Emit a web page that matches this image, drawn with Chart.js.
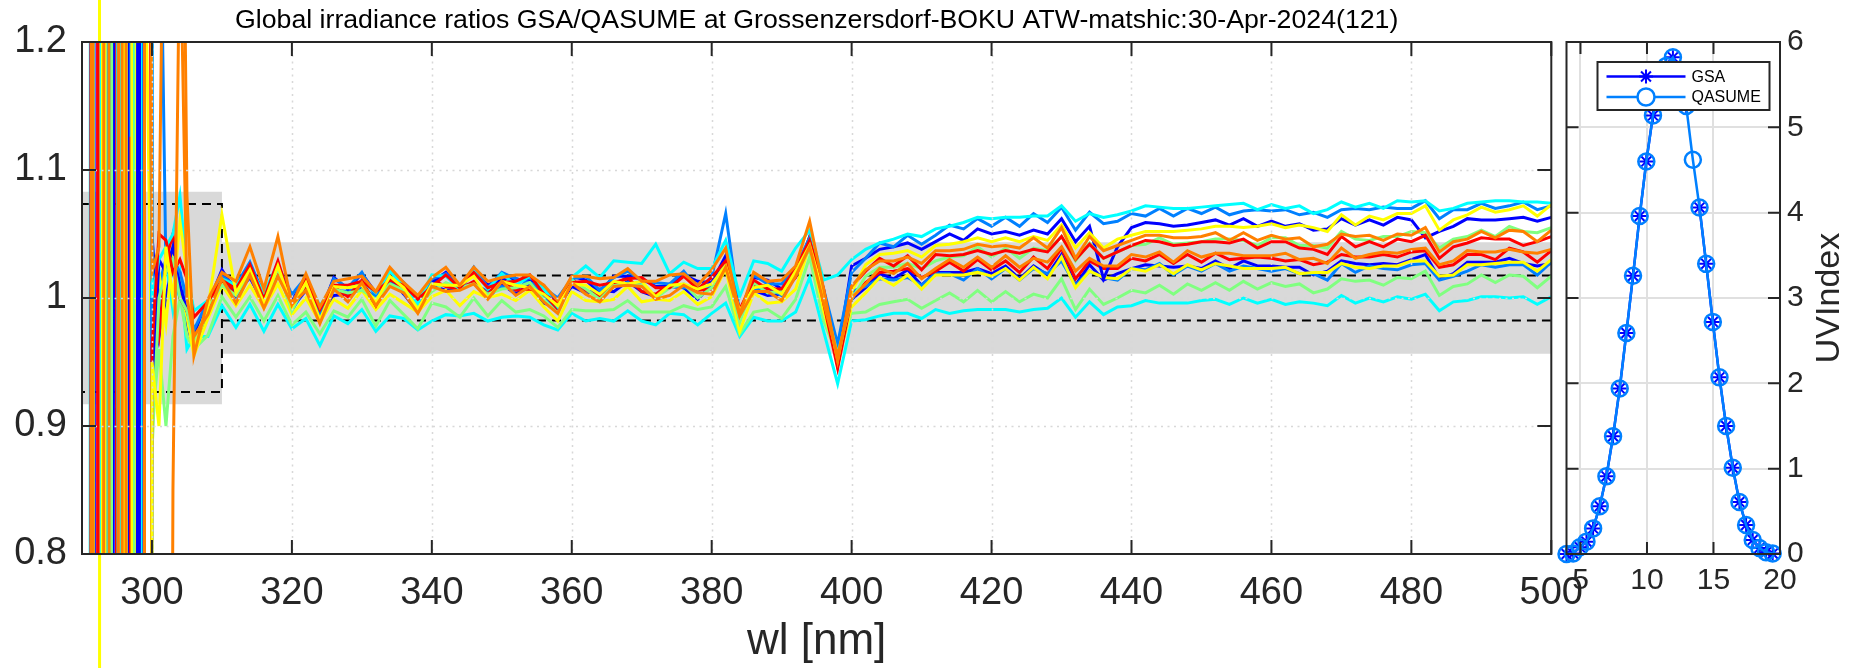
<!DOCTYPE html>
<html>
<head>
<meta charset="utf-8">
<script src="https://cdn.jsdelivr.net/npm/chart.js@4.4.1/dist/chart.umd.min.js"></script>
<style>
  html, body { margin: 0; padding: 0; background: #fff; }
  body { width: 1854px; height: 668px; position: relative; overflow: hidden; }
  #ratioChart { position: absolute; left: 0; top: 0; }
  #uvChart { position: absolute; left: 1556px; top: 0; }
</style>
</head>
<body>
<canvas id="ratioChart" width="1600" height="668"></canvas>
<canvas id="uvChart" width="298" height="668"></canvas>
<script>
// wavelengths (nm) of the ratio spectra
const wl = [290,291,292,293,294,295,296,297,298,299,300,301,302,303,304,305,306,
  308,310,312,314,316,318,320,322,324,326,328,330,332,334,336,338,340,342,344,346,348,350,
  352,354,356,358,360,362,364,366,368,370,372,374,376,378,380,382,384,386,388,390,392,394,396,398,400,
  402,404,406,408,410,412,414,416,418,420,422,424,426,428,430,432,434,436,438,440,
  442,444,446,448,450,452,454,456,458,460,462,464,466,468,470,472,474,476,478,480,
  482,484,486,488,490,492,494,496,498,500];

// GSA/QASUME ratio of each scan of the day
const scan01 = [-6,-6,20,20,-2,-2,12,-30,-30,3,1.02,1.04,1.5,2.5,1.6,1.08,0.955,
  0.999,1.020,1.013,1.040,1.007,1.048,0.995,1.019,0.993,1.013,1.015,1.017,1.005,1.024,1.012,1.002,1.016,1.024,1.010,1.024,1.013,1.016,1.018,1.018,1.010,0.998,1.017,1.017,1.015,1.016,1.023,1.013,1.013,1.018,1.019,1.010,1.022,1.039,0.987,1.020,1.013,1.014,1.025,1.060,1.007,0.951,1.009,
  1.022,1.029,1.029,1.032,1.027,1.037,1.037,1.038,1.042,1.040,1.041,1.039,1.047,1.039,1.055,1.031,1.048,1.037,1.041,1.045,1.049,1.049,1.047,1.047,1.048,1.051,1.045,1.051,1.045,1.049,1.046,1.047,1.040,1.042,1.050,1.048,1.049,1.045,1.050,1.049,1.055,1.036,1.044,1.046,1.052,1.047,1.053,1.052,1.044,1.053];
const scan02 = [5,5,-2,-2,30,30,-8,-8,-8,-3,0.5,0.7,-0.5,0.85,1.3,1.0,0.97,
  0.987,1.015,0.996,1.018,0.992,1.017,0.995,1.006,0.980,1.007,0.997,1.012,0.994,1.009,1.004,0.988,1.009,1.005,1.006,1.011,0.999,1.013,1.002,1.009,0.997,0.988,1.012,1.003,0.997,1.009,1.010,1.009,0.999,1.002,1.010,1.004,1.003,1.024,0.986,1.005,1.005,0.998,1.017,1.040,0.996,0.955,1.000,
  1.011,1.023,1.019,1.027,1.015,1.023,1.030,1.024,1.032,1.024,1.033,1.024,1.031,1.028,1.040,1.021,1.031,1.025,1.025,1.034,1.032,1.036,1.028,1.037,1.032,1.035,1.035,1.033,1.033,1.033,1.035,1.030,1.031,1.027,1.039,1.031,1.034,1.036,1.035,1.038,1.039,1.026,1.029,1.037,1.036,1.036,1.038,1.036,1.035,1.038];
const scan03 = [9,9,9,-40,-40,-3,-3,1.126,-3,-3,0.96,1.05,1.045,1.02,1.03,1.015,0.985,
  0.997,1.014,1.007,1.026,0.999,1.029,0.994,1.014,0.991,1.010,1.010,1.013,1.005,1.014,1.010,0.999,1.009,1.018,1.008,1.020,1.008,1.012,1.013,1.018,1.003,0.996,1.012,1.013,1.010,1.012,1.015,1.016,1.008,1.008,1.017,1.007,1.016,1.029,0.991,1.014,1.007,1.007,1.023,1.045,1.007,0.947,1.009,
  1.021,1.031,1.025,1.033,1.022,1.034,1.033,1.034,1.037,1.034,1.037,1.035,1.038,1.036,1.048,1.030,1.042,1.031,1.036,1.041,1.045,1.044,1.041,1.042,1.044,1.044,1.043,1.046,1.039,1.044,1.044,1.039,1.038,1.034,1.048,1.040,1.044,1.040,1.046,1.044,1.049,1.031,1.040,1.043,1.047,1.046,1.046,1.041,1.044,1.048];
const scan04 = [7,7,7,-15,-15,2,2,-30,-10,2,1.0,0.97,1.03,1.05,1.0,0.99,0.975,
  0.990,1.019,1.002,1.017,1.000,1.018,0.997,1.009,0.984,1.009,1.001,1.014,0.994,1.017,1.005,0.992,1.014,1.009,1.007,1.013,1.003,1.015,1.006,1.007,1.004,0.991,1.015,1.006,1.001,1.011,1.016,1.005,1.003,1.011,1.010,1.006,1.007,1.030,0.984,1.009,1.010,1.004,1.016,1.048,0.996,0.945,1.000,
  1.012,1.020,1.021,1.023,1.016,1.021,1.028,1.021,1.030,1.022,1.029,1.020,1.032,1.023,1.039,1.015,1.029,1.023,1.023,1.031,1.029,1.034,1.027,1.034,1.028,1.035,1.030,1.031,1.032,1.031,1.029,1.030,1.026,1.028,1.034,1.032,1.032,1.034,1.032,1.036,1.037,1.024,1.026,1.034,1.034,1.030,1.039,1.036,1.028,1.037];
const scan05 = [10,10,10,10,-25,-25,3,3,-12,-5,0.95,0.90,1.04,1.0,1.06,1.02,0.96,
  0.992,1.065,1.004,1.022,0.996,1.025,0.993,1.012,0.983,1.009,1.008,1.010,0.997,1.017,1.008,0.991,1.011,1.010,1.010,1.017,1.000,1.013,1.010,1.008,1.003,0.994,1.011,1.010,1.003,1.013,1.011,1.013,1.001,1.010,1.011,1.007,1.011,1.025,0.990,1.008,1.010,1.003,1.021,1.041,1.002,0.952,1.005,
  1.026,1.034,1.035,1.037,1.032,1.041,1.042,1.044,1.047,1.044,1.047,1.044,1.048,1.045,1.057,1.039,1.051,1.039,1.046,1.049,1.052,1.052,1.052,1.053,1.054,1.056,1.056,1.055,1.056,1.058,1.055,1.057,1.055,1.052,1.065,1.057,1.064,1.061,1.066,1.066,1.072,1.053,1.061,1.065,1.071,1.067,1.069,1.072,1.064,1.073];
const scan06 = [-6,-6,-20,3,3,-4,-4,-4,6,1.3,0.93,1.02,0.98,1.04,1.01,0.985,0.955,
  0.984,1.010,0.994,1.010,0.992,1.011,0.987,1.000,0.981,0.999,0.992,1.006,0.991,1.003,0.996,0.989,1.001,1.006,0.994,1.005,1.000,1.003,0.998,1.006,0.993,0.982,1.005,0.998,0.997,0.999,1.009,0.997,0.999,0.998,1.005,0.995,1.001,1.023,0.974,1.004,0.996,0.997,1.007,1.041,0.990,0.950,0.993,
  1.004,1.016,1.010,1.018,1.007,1.018,1.018,1.018,1.020,1.017,1.023,1.014,1.024,1.015,1.032,1.008,1.021,1.016,1.015,1.023,1.021,1.026,1.019,1.026,1.022,1.027,1.025,1.023,1.023,1.023,1.024,1.019,1.020,1.020,1.027,1.024,1.023,1.025,1.025,1.029,1.029,1.017,1.018,1.026,1.026,1.027,1.028,1.028,1.021,1.030];
const scan07 = [8,8,-3,-3,-3,15,15,15,-20,-5,0.88,1.0,1.02,1.03,1.0,0.99,0.965,
  0.994,1.010,1.002,1.020,0.995,1.023,0.990,1.012,0.981,1.007,1.004,1.006,0.999,1.011,1.006,0.993,1.005,1.012,1.008,1.011,1.003,1.007,1.008,1.012,0.999,0.988,1.014,1.007,0.999,1.010,1.011,1.010,1.000,1.008,1.011,1.000,1.008,1.028,0.981,1.012,1.004,1.005,1.018,1.039,0.999,0.956,0.999,
  1.017,1.024,1.024,1.027,1.023,1.029,1.032,1.033,1.040,1.032,1.039,1.031,1.039,1.037,1.048,1.029,1.043,1.031,1.036,1.041,1.042,1.047,1.042,1.043,1.044,1.046,1.046,1.045,1.041,1.047,1.047,1.041,1.041,1.039,1.052,1.046,1.045,1.048,1.048,1.052,1.051,1.039,1.046,1.048,1.053,1.048,1.056,1.052,1.051,1.055];
const scan08 = [-15,-15,25,25,-30,-30,6,-3,-3,-3,0.9,0.96,0.9,0.97,1.0,0.97,0.96,
  0.971,1.001,0.985,1.001,0.982,1.002,0.979,0.989,0.972,0.990,0.985,0.999,0.978,0.998,0.987,0.976,0.996,0.993,0.985,1.000,0.986,0.998,0.989,0.991,0.986,0.977,0.991,0.990,0.990,0.991,0.998,0.989,0.989,0.989,0.994,0.991,0.993,1.009,0.972,0.989,0.991,0.984,0.999,1.032,0.982,0.955,0.988,
  0.989,0.995,0.997,0.999,0.992,0.998,1.004,0.997,1.006,0.997,1.005,0.997,1.003,1.000,1.015,0.991,1.007,0.995,1.000,1.006,1.004,1.010,1.003,1.011,1.006,1.012,1.006,1.013,1.007,1.012,1.009,1.011,1.004,1.007,1.015,1.013,1.014,1.010,1.016,1.015,1.021,1.002,1.009,1.011,1.018,1.012,1.018,1.017,1.008,1.017];
const scan09 = [-4,-4,-4,-4,2,2,-6,-6,25,25,1.0,1.03,1.04,1.05,1.08,1.02,0.99,
  0.998,1.015,1.010,1.023,1.004,1.027,0.995,1.016,0.994,1.010,1.009,1.013,1.004,1.021,1.009,0.996,1.018,1.017,1.007,1.021,1.007,1.019,1.010,1.017,1.007,0.993,1.016,1.025,1.016,1.029,1.028,1.027,1.042,1.019,1.028,1.023,1.023,1.045,1.001,1.029,1.027,1.021,1.039,1.053,1.014,1.018,1.030,
  1.038,1.043,1.046,1.050,1.048,1.054,1.056,1.059,1.063,1.062,1.063,1.063,1.064,1.064,1.072,1.060,1.066,1.063,1.065,1.068,1.072,1.071,1.070,1.070,1.071,1.072,1.073,1.074,1.069,1.073,1.070,1.072,1.066,1.069,1.075,1.071,1.074,1.070,1.076,1.075,1.076,1.068,1.070,1.074,1.075,1.076,1.076,1.075,1.075,1.074];
const scan10 = [-3,-3,20,-6,-6,-6,5,5,5,-2,0.95,0.98,1.03,0.99,1.02,0.96,0.97,
  0.970,0.994,0.977,0.995,0.974,0.995,0.976,0.984,0.963,0.986,0.980,0.991,0.974,0.986,0.984,0.975,0.982,0.987,0.986,0.988,0.982,0.985,0.986,0.985,0.979,0.975,0.988,0.982,0.984,0.982,0.990,0.982,0.979,0.988,0.987,0.979,0.988,0.996,0.970,0.985,0.982,0.982,0.989,1.016,0.974,0.933,0.982,
  0.983,0.986,0.988,0.988,0.984,0.991,0.988,0.990,0.991,0.991,0.991,0.989,0.991,0.992,1.000,0.985,0.997,0.987,0.993,0.994,0.998,0.996,0.996,0.996,0.998,0.999,0.995,1.000,0.996,0.999,0.995,0.997,0.996,0.994,1.002,0.996,1.000,0.997,1.001,0.999,1.003,0.990,0.997,0.998,1.001,1.001,1.000,1.001,0.995,1.001];
const scan11 = [-5,-5,-5,-5,3,-25,-25,2,30,-6,1.25,1.4,1.02,1.03,1.02,1.0,0.975,
  0.998,1.017,1.010,1.028,1.002,1.025,1.003,1.016,0.988,1.015,1.008,1.020,1.001,1.021,1.012,0.996,1.015,1.019,1.008,1.024,1.008,1.020,1.015,1.012,1.008,1.000,1.015,1.017,1.006,1.016,1.021,1.013,1.012,1.011,1.021,1.007,1.016,1.066,0.987,1.018,1.011,1.011,1.024,1.047,1.007,0.964,1.020,
  1.031,1.043,1.040,1.049,1.042,1.049,1.057,1.054,1.062,1.056,1.063,1.056,1.066,1.059,1.071,1.053,1.067,1.058,1.060,1.066,1.064,1.070,1.064,1.070,1.066,1.071,1.065,1.068,1.069,1.068,1.069,1.065,1.067,1.063,1.069,1.070,1.069,1.071,1.070,1.070,1.076,1.062,1.069,1.069,1.074,1.070,1.072,1.075,1.069,1.072];
const scan12 = [5,5,5,5,-1,-1,-1,3,-3,-3,0.97,1.01,1.03,1.02,1.0,0.99,0.96,
  0.991,1.018,1.001,1.017,0.999,1.024,0.990,1.009,0.989,1.006,1.005,1.009,1.000,1.012,1.005,0.997,1.010,1.010,1.009,1.011,1.005,1.009,1.006,1.015,1.001,0.989,1.014,1.004,1.007,1.009,1.012,1.010,1.001,1.010,1.008,1.008,1.009,1.026,0.990,1.007,1.008,1.002,1.017,1.048,0.998,0.951,1.005,
  1.009,1.015,1.014,1.016,1.010,1.019,1.019,1.014,1.023,1.015,1.023,1.014,1.023,1.019,1.029,1.010,1.021,1.016,1.014,1.023,1.022,1.027,1.018,1.025,1.021,1.027,1.021,1.025,1.023,1.021,1.023,1.019,1.019,1.014,1.027,1.020,1.025,1.023,1.022,1.026,1.027,1.014,1.017,1.021,1.026,1.024,1.026,1.026,1.018,1.028];
const scan13 = [5,5,-12,-12,-2,4,40,-6,-6,30,0.92,1.03,1.02,1.04,1.01,0.99,0.97,
  0.995,1.022,1.005,1.026,1.003,1.023,0.998,1.016,0.987,1.016,1.007,1.019,1.004,1.014,1.011,1.001,1.012,1.020,1.007,1.020,1.010,1.015,1.015,1.013,1.010,0.993,1.017,1.014,1.004,1.017,1.017,1.015,1.009,1.009,1.018,1.013,1.012,1.033,0.987,1.016,1.014,1.007,1.020,1.040,1.005,0.956,1.025,
  1.031,1.038,1.040,1.043,1.038,1.044,1.050,1.045,1.054,1.050,1.052,1.049,1.053,1.050,1.062,1.044,1.056,1.015,1.040,1.055,1.059,1.058,1.056,1.057,1.059,1.061,1.057,1.062,1.056,1.060,1.056,1.058,1.053,1.054,1.062,1.057,1.061,1.057,1.063,1.061,1.047,1.052,1.056,1.062,1.061,1.061,1.062,1.063,1.060,1.063];
const scan14 = [7,7,-1,-1,-1,4,9,-40,6,6,1.05,0.97,1.0,1.03,1.02,0.98,0.96,
  0.991,1.010,1.003,1.016,0.995,1.023,0.992,1.006,0.987,1.002,1.003,1.007,0.994,1.016,1.003,0.989,1.010,1.006,1.007,1.012,1.000,1.011,1.003,1.011,0.996,0.993,1.009,1.004,1.006,1.005,1.013,1.005,1.001,1.009,1.008,0.999,1.010,1.025,0.987,1.006,1.002,1.003,1.018,1.039,0.997,0.956,0.999,
  1.008,1.019,1.015,1.022,1.010,1.020,1.020,1.020,1.023,1.019,1.025,1.015,1.025,1.018,1.034,1.010,1.026,1.014,1.019,1.023,1.026,1.025,1.024,1.025,1.023,1.029,1.023,1.029,1.025,1.025,1.024,1.024,1.018,1.021,1.029,1.027,1.026,1.027,1.026,1.030,1.034,1.015,1.019,1.028,1.028,1.028,1.031,1.027,1.025,1.027];

const scanRatios = [scan01, scan02, scan05, scan03, scan09, scan07, scan11, scan13,
  scan04, scan06, scan08, scan10, scan12, scan14];
const scanColors = ['#ff8000', '#ff8000', '#ffff00', '#ff0000', '#00ffff', '#80ff80', '#0080ff', '#0000ff',
  '#ff0000', '#ffff00', '#80ff80', '#00ffff', '#0080ff', '#0000ff'];

// one stray scan that blows up near 292 nm
const strayWl = [292, 293];
const strayRatio = [60, -60];

// uncertainty band and limits
const bandWl = [290, 310, 310, 500];
const bandUpper = [1.083, 1.083, 1.0435, 1.0435];
const bandLower = [0.917, 0.917, 0.9565, 0.9565];
const boxWl = [290, 310, 310, 290];
const boxRatio = [1.0735, 1.0735, 0.9265, 0.9265];
const limitWl = [310, 500];
const limitUpper = [1.0175, 1.0175];
const limitLower = [0.9825, 0.9825];

// UV index through the day (hours)
const uvTime = [3.95,4.45,4.95,5.45,5.95,6.45,6.95,7.45,7.95,8.45,8.95,9.45,9.95,10.45,10.95,11.45,11.95,
  12.45,12.95,13.45,13.95,14.45,14.95,15.45,15.95,16.45,16.95,17.45,17.95,18.45,18.95,19.45];
const uvGsa = [0,0.005,0.08,0.145,0.30,0.56,0.91,1.38,1.94,2.59,3.26,3.96,4.60,5.14,5.50,5.72,5.82,
  5.65,5.25,null,4.06,3.40,2.72,2.07,1.50,1.01,0.61,0.34,0.165,0.07,0.02,0.005];
const uvQasume = [0,0.005,0.08,0.145,0.30,0.56,0.91,1.38,1.94,2.59,3.26,3.96,4.60,5.14,5.50,5.72,5.82,
  5.65,5.25,4.62,4.06,3.40,2.72,2.07,1.50,1.01,0.61,0.34,0.165,0.07,0.02,0.005];

const titleText = 'Global irradiance ratios GSA/QASUME at Grossenzersdorf-BOKU ATW-matshic:30-Apr-2024(121)';
const ink = '#262626';
const fontFamily = "'Liberation Sans', Arial, Helvetica, sans-serif";
Chart.defaults.font.family = fontFamily;
Chart.defaults.color = ink;

const toPoints = (xs, ys) => xs.map((x, i) => ({ x: x, y: ys[i] }));

// MATLAB style axes: grid, inward ticks and a box
function axesPlugin(cfg) {
  const drawGrid = (chart) => {
    const { ctx, chartArea: a, scales: { x, y } } = chart;
    ctx.save();
    ctx.strokeStyle = cfg.gridColor;
    ctx.lineWidth = cfg.gridWidth;
    ctx.setLineDash(cfg.gridDash);
    x.ticks.forEach(t => {
      const px = Math.round(x.getPixelForValue(t.value)) + 0.5;
      if (px <= a.left + 1 || px >= a.right - 1) return;
      ctx.beginPath(); ctx.moveTo(px, a.top); ctx.lineTo(px, a.bottom); ctx.stroke();
    });
    y.ticks.forEach(t => {
      const py = Math.round(y.getPixelForValue(t.value)) + 0.5;
      if (py <= a.top + 1 || py >= a.bottom - 1) return;
      ctx.beginPath(); ctx.moveTo(a.left, py); ctx.lineTo(a.right, py); ctx.stroke();
    });
    ctx.restore();
  };
  return {
    id: 'axesPlugin',
    beforeDatasetsDraw(chart) { if (!cfg.gridOnTop) drawGrid(chart); },
    afterDatasetsDraw(chart) {
      if (cfg.gridOnTop) drawGrid(chart);
      const { ctx, chartArea: a, scales: { x, y } } = chart;
      const L = cfg.tickLen;
      ctx.save();
      ctx.strokeStyle = ink;
      ctx.lineWidth = 2;
      x.ticks.forEach(t => {
        const px = x.getPixelForValue(t.value);
        ctx.beginPath();
        ctx.moveTo(px, a.bottom); ctx.lineTo(px, a.bottom - L);
        ctx.moveTo(px, a.top); ctx.lineTo(px, a.top + L);
        ctx.stroke();
      });
      y.ticks.forEach(t => {
        const py = y.getPixelForValue(t.value);
        ctx.beginPath();
        ctx.moveTo(a.left, py); ctx.lineTo(a.left + L, py);
        ctx.moveTo(a.right, py); ctx.lineTo(a.right - L, py);
        ctx.stroke();
      });
      ctx.strokeRect(a.left, a.top, a.right - a.left, a.bottom - a.top);
      ctx.restore();
    },
    afterDraw(chart) { if (cfg.extra) cfg.extra(chart); }
  };
}

// ---- ratio chart ----
const scanSets = scanRatios.map((r, i) => ({
  data: toPoints(wl, r),
  borderColor: scanColors[i],
  borderWidth: 3,
  pointRadius: 0,
  fill: false,
  order: 1
}));

new Chart(document.getElementById('ratioChart'), {
  type: 'line',
  data: {
    datasets: [
      ...scanSets,
      { data: toPoints(strayWl, strayRatio), borderColor: '#ffff00', borderWidth: 3, pointRadius: 0, clip: false, order: 1 },
      { data: toPoints(boxWl, boxRatio), borderColor: '#000', borderWidth: 2, borderDash: [9, 6], pointRadius: 0, fill: false, order: 2 },
      { data: toPoints(limitWl, limitUpper), borderColor: '#000', borderWidth: 2, borderDash: [9, 6], pointRadius: 0, fill: false, order: 2 },
      { data: toPoints(limitWl, limitLower), borderColor: '#000', borderWidth: 2, borderDash: [9, 6], pointRadius: 0, fill: false, order: 2 },
      { data: toPoints(bandWl, bandUpper), borderColor: 'rgba(0,0,0,0)', backgroundColor: '#d9d9d9', pointRadius: 0, fill: '+1', order: 5 },
      { data: toPoints(bandWl, bandLower), borderColor: 'rgba(0,0,0,0)', pointRadius: 0, fill: false, order: 5 }
    ]
  },
  options: {
    responsive: false,
    animation: false,
    devicePixelRatio: 1,
    layout: { padding: { top: 42, right: 45, left: 0, bottom: 0 } },
    plugins: { legend: { display: false }, tooltip: { enabled: false } },
    scales: {
      x: {
        type: 'linear', min: 290, max: 500,
        grid: { display: false, drawTicks: false }, border: { display: false },
        ticks: { stepSize: 20, includeBounds: false, font: { size: 38 }, padding: 17, maxRotation: 0 },
        title: { display: true, text: 'wl [nm]', font: { size: 44 }, padding: { top: 0, bottom: 0 } },
        afterFit: s => { s.height = 114; }
      },
      y: {
        min: 0.8, max: 1.2,
        grid: { display: false, drawTicks: false }, border: { display: false },
        ticks: { stepSize: 0.1, font: { size: 38 }, padding: 15, callback: v => String(+v.toFixed(1)) },
        afterFit: s => { s.width = 82; }
      }
    }
  },
  plugins: [axesPlugin({
    gridOnTop: true, gridColor: '#d8d8d8', gridWidth: 1.5, gridDash: [2, 4.5], tickLen: 14,
    extra: chart => {
      const { ctx, chartArea: a } = chart;
      ctx.save();
      ctx.fillStyle = '#000';
      ctx.font = '26.7px ' + fontFamily;
      ctx.textAlign = 'center';
      ctx.textBaseline = 'middle';
      ctx.fillText(titleText, (a.left + a.right) / 2, 21);
      ctx.restore();
    }
  })]
});

// ---- UV index chart ----
new Chart(document.getElementById('uvChart'), {
  type: 'line',
  data: {
    datasets: [
      { label: 'QASUME', data: toPoints(uvTime, uvQasume), borderColor: '#0080ff', borderWidth: 2.5,
        pointStyle: 'circle', pointRadius: 8, pointBorderWidth: 2.5, pointBackgroundColor: 'rgba(0,0,0,0)',
        clip: false, order: 0 },
      { label: 'GSA', data: toPoints(uvTime, uvGsa), borderColor: '#0000ff', borderWidth: 2.5,
        pointStyle: 'star', pointRadius: 7, pointBorderWidth: 2, clip: false, spanGaps: false, order: 1 }
    ]
  },
  options: {
    responsive: false,
    animation: false,
    devicePixelRatio: 1,
    layout: { padding: { top: 42, right: 0, left: 10, bottom: 0 } },
    plugins: { legend: { display: false }, tooltip: { enabled: false } },
    scales: {
      x: {
        type: 'linear', min: 3.95, max: 20,
        grid: { color: '#e0e0e0', lineWidth: 2, drawTicks: false }, border: { display: false },
        ticks: { stepSize: 5, includeBounds: false, font: { size: 30 }, padding: 9, maxRotation: 0 },
        afterFit: s => { s.height = 114; }
      },
      y: {
        position: 'right', min: 0, max: 6,
        grid: { color: '#e0e0e0', lineWidth: 2, drawTicks: false }, border: { display: false },
        ticks: { stepSize: 1, font: { size: 30 }, padding: 7 },
        afterFit: s => { s.width = 74; }
      }
    }
  },
  plugins: [axesPlugin({
    gridOnTop: false, gridColor: 'rgba(0,0,0,0)', gridWidth: 0.1, gridDash: [], tickLen: 12,
    extra: chart => {
      const { ctx, chartArea: a } = chart;
      ctx.save();
      // y axis title
      ctx.fillStyle = ink;
      ctx.font = '34px ' + fontFamily;
      ctx.textAlign = 'center';
      ctx.textBaseline = 'middle';
      ctx.translate(274, (a.top + a.bottom) / 2);
      ctx.rotate(-Math.PI / 2);
      ctx.fillText('UVIndex', 0, 0);
      ctx.restore();
      // legend
      const bx = a.left + 31, by = a.top + 20, bw = 172, bh = 48;
      ctx.save();
      ctx.fillStyle = '#fff';
      ctx.fillRect(bx, by, bw, bh);
      ctx.strokeStyle = ink;
      ctx.lineWidth = 2;
      ctx.strokeRect(bx, by, bw, bh);
      const rows = [
        { label: 'GSA', color: '#0000ff', star: true, y: by + 14.5 },
        { label: 'QASUME', color: '#0080ff', star: false, y: by + 35 }
      ];
      rows.forEach(r => {
        const x0 = bx + 9, x1 = bx + 88, cx = (x0 + x1) / 2;
        ctx.strokeStyle = r.color;
        ctx.lineWidth = 2.5;
        ctx.beginPath(); ctx.moveTo(x0, r.y); ctx.lineTo(x1, r.y); ctx.stroke();
        ctx.beginPath();
        if (r.star) {
          const s = 7;
          ctx.lineWidth = 2;
          ctx.moveTo(cx - s, r.y); ctx.lineTo(cx + s, r.y);
          ctx.moveTo(cx, r.y - s); ctx.lineTo(cx, r.y + s);
          const d = s * 0.707;
          ctx.moveTo(cx - d, r.y - d); ctx.lineTo(cx + d, r.y + d);
          ctx.moveTo(cx - d, r.y + d); ctx.lineTo(cx + d, r.y - d);
          ctx.stroke();
        } else {
          ctx.fillStyle = '#fff';
          ctx.arc(cx, r.y, 8.5, 0, Math.PI * 2);
          ctx.fill();
          ctx.stroke();
        }
        ctx.fillStyle = '#000';
        ctx.font = '16px ' + fontFamily;
        ctx.textAlign = 'left';
        ctx.textBaseline = 'middle';
        ctx.fillText(r.label, bx + 94, r.y + 1);
      });
      ctx.restore();
    }
  })]
});
</script>
</body>
</html>
